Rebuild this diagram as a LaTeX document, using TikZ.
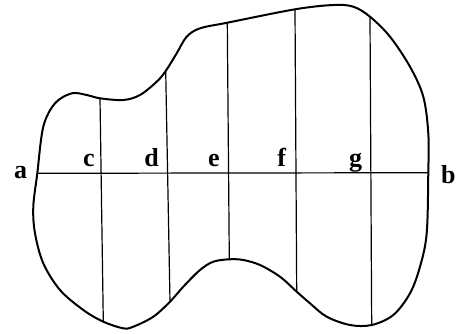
\documentclass[tikz,border=0pt]{standalone}
\usepackage{fontspec}
\setmainfont{Liberation Serif}
\begin{document}
\begin{tikzpicture}[x=1pt,y=-1pt,
  outline/.style={line width=2pt,line join=round},
  chord/.style={line width=1.2pt},
  lbl/.style={font=\fontsize{26}{30}\selectfont\bfseries,inner sep=0pt,anchor=base}]
\useasboundingbox (0,0) rectangle (461,333);
% end points on the outline
\coordinate (A) at (37.3,173.3);
\coordinate (B) at (428.3,172.7);
\coordinate (Ct) at (100,98.3);   \coordinate (Cb) at (103.3,321.7);
\coordinate (Dt) at (165.7,71);   \coordinate (Db) at (170,301.7);
\coordinate (Et) at (227.3,22.7); \coordinate (Eb) at (229.3,259.3);
\coordinate (Ft) at (295,9.3);    \coordinate (Fb) at (296.7,291.7);
\coordinate (Gt) at (370,16.7);   \coordinate (Gb) at (371.7,325);
% outline
\draw[outline] plot[smooth cycle,tension=0.55] coordinates {
 (37.3,173.3) (43.3,126.7) (55,103.3) (71.7,93.3) (86.7,95) (100,98.3)
 (123.3,100) (140,95) (156.7,81.7) (165.7,71) (176.7,53.3) (186.7,36.7)
 (200,28.3) (227.3,22.7) (295,9.3) (333.3,5) (353.3,6.7) (370,16.7)
 (390,36.7) (410,66.7) (423.3,96.7) (428.3,133.3) (428.3,172.7)
 (426.7,233.3) (420,266.7) (410,293.3) (393.3,315) (371.7,325) (350,325)
 (326.7,316.7) (310,303.3) (296.7,291.7) (280,276.7) (260,265)
 (243.3,260) (229.3,259.3) (213.3,261.7) (200,270) (183.3,286.7)
 (170,301.7) (153.3,316.7) (133.3,326.7) (123.3,328.3) (103.3,321.7)
 (83.3,310) (60,290) (43.3,263.3) (35,233.3) (33.3,206.7)};
% chords
\draw[chord] (A) -- (B);
\draw[chord] (Ct) -- (Cb);
\draw[chord] (Dt) -- (Db);
\draw[chord] (Et) -- (Eb);
\draw[chord] (Ft) -- (Fb);
\draw[chord] (Gt) -- (Gb);
% labels
\node[lbl] (la) at (20.7,178.3) {a};
\node[lbl] (lb) at (448.3,183.3) {b};
\node[lbl] (lc) at (89,166.7) {c};
\node[lbl] (ld) at (151.7,166.7) {d};
\node[lbl] (le) at (214,166.7) {e};
\node[lbl] (lf) at (281.7,166.7) {f};
\node[lbl] (lg) at (355.7,166.7) {g};
\end{tikzpicture}
\end{document}
